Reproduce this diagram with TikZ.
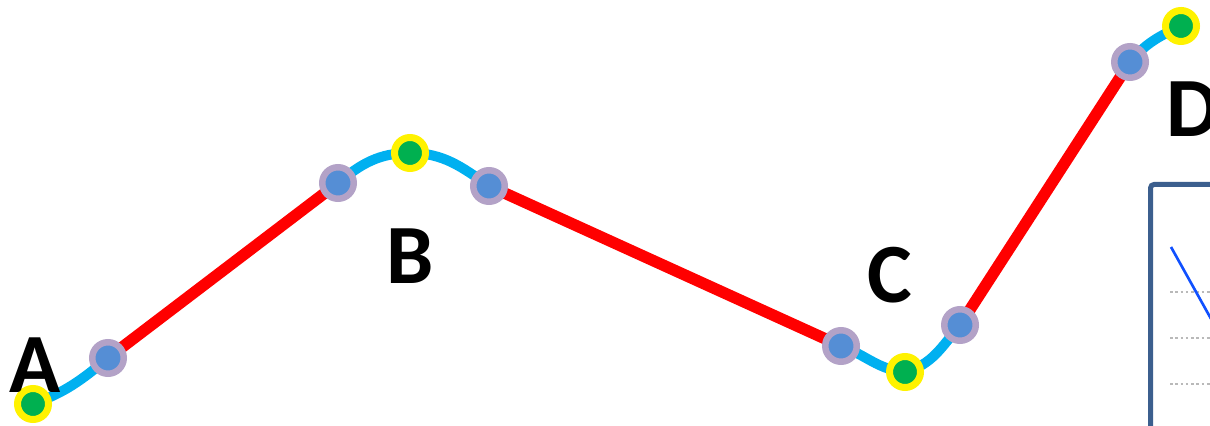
\documentclass[tikz,border=0pt]{standalone}
\usepackage{fontspec}
\setmainfont{Carlito}
\usepackage{tikz}
\usetikzlibrary{positioning,backgrounds}
\definecolor{linkcyan}{HTML}{00B0F0}
\definecolor{hubgreen}{HTML}{00B050}
\definecolor{jointpurple}{HTML}{B3A2C7}
\definecolor{jointblue}{HTML}{558ED5}
\definecolor{framecol}{HTML}{3C5F8E}
\definecolor{plotblue}{HTML}{1050FF}

\begin{document}
\begin{tikzpicture}[
  hub/.style={circle,draw=yellow,fill=hubgreen,line width=0.14cm,minimum size=0.62cm,inner sep=0pt},
  joint/.style={circle,draw=jointpurple,fill=jointblue,line width=0.13cm,minimum size=0.63cm,inner sep=0pt},
  curve/.style={draw=linkcyan,line width=0.2cm},
  straight/.style={draw=red,line width=0.23cm},
  letter/.style={font=\fontsize{48}{50}\selectfont\bfseries,inner sep=0pt}
]
\clip (0,0) rectangle (24.2,8.52);

% points of the route
\node[hub] (A) at (0.66,0.44) {};
\node[joint] (p1) at (2.16,1.36) {};
\node[joint] (p2) at (6.76,4.86) {};
\node[hub] (B) at (8.20,5.46) {};
\node[joint] (p3) at (9.78,4.80) {};
\node[joint] (p4) at (16.82,1.60) {};
\node[hub] (C) at (18.10,1.08) {};
\node[joint] (p5) at (19.20,2.02) {};
\node[joint] (p6) at (22.60,7.28) {};
\node[hub] (D) at (23.62,8.00) {};

\node[letter] (labA) at (0.70,1.22) {A};
\node[letter] (labB) at (8.20,3.40) {B};
\node[letter] (labC) at (17.80,3.02) {C};
\node[letter] (labD) at (23.86,6.34) {D};

\begin{scope}[on background layer]
\path[curve] (A.center) to[out=20,in=-140] (p1.center);
\path[straight] (p1.center) -- (p2.center);
\path[curve] (p2.center) to[out=40,in=180] (B.center) to[out=0,in=145] (p3.center);
\path[straight] (p3.center) -- (p4.center);
\path[curve] (p4.center) to[out=-20,in=175] (C.center) to[out=15,in=-130] (p5.center);
\path[straight] (p5.center) -- (p6.center);
\path[curve] (p6.center) to[out=50,in=205] (D.center);
\end{scope}

% chart box, cut at the edge
\node[draw=framecol,line width=0.1cm,rounded corners=2pt,anchor=north west,minimum width=3cm,minimum height=6cm] (chart) at (22.96,4.88) {};
\foreach \y in {2.68,1.76,0.84}
  \draw[gray!55,line width=0.7pt,dash pattern=on 1.5pt off 1.5pt] (23.40,\y) -- (24.3,\y);
\draw[plotblue,line width=1.5pt] (23.42,3.58) -- (24.30,2.00);
\end{tikzpicture}
\end{document}
